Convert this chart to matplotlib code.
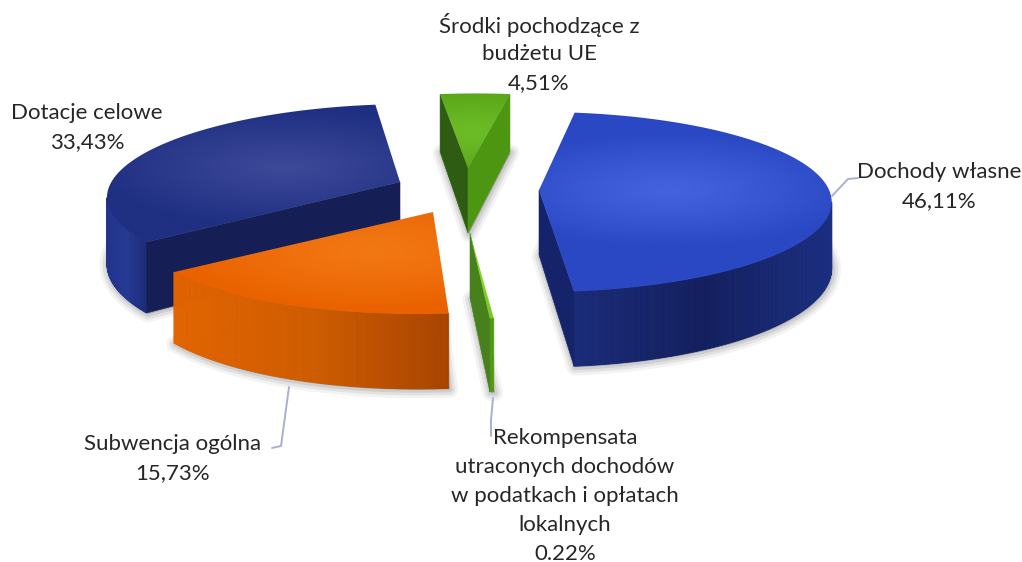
import matplotlib
matplotlib.use('Agg')
import matplotlib.pyplot as plt
import numpy as np
from matplotlib.colors import LinearSegmentedColormap, to_rgb
from matplotlib.patches import Polygon

# pie values in percent, clockwise order starting at the blue slice
categories = ['Dochody własne', 'Rekompensata', 'Subwencja ogólna', 'Dotacje celowe', 'Środki UE']
values = [46.11, 0.22, 15.73, 33.43, 4.51]
label_texts = [
    'Dochody własne\n46,11%',
    'Rekompensata\nutraconych dochodów\nw podatkach i opłatach\nlokalnych\n0.22%',
    'Subwencja ogólna\n15,73%',
    'Dotacje celowe\n33,43%',
    'Środki pochodzące z\nbudżetu UE\n4,51%',
]

plt.rcParams['font.family'] = ['Lato', 'DejaVu Sans']

START_ANGLE = 8.0
RX, RY, PERSP, DEPTH = 293.0, 88.4, 0.133, 65.0

# per slice look: apex in pixels, shear, radius scale, width scale
style = [
    dict(apex=(539, 190), shear=0, r=1.0, wide=0.99, top=('#4462de', '#2a48c4'),
         wall=('#1a2b78', '#131f5e', '#1b2e80'), faces=('#15246a', '#15246a')),
    dict(apex=(470, 233), shear=7, r=0.86, wide=1.0, top=('#86d826', '#74c41e'),
         wall=('#4f9a14', '#5a9e20', '#4f9a14'), faces=('#47801c', '#47801c')),
    dict(apex=(433, 212), shear=15, r=1.0, wide=1.0, top=('#f27814', '#ea6200'),
         wall=('#e26400', '#cf5c00', '#a84400'), faces=('#a84400', '#a84400')),
    dict(apex=(400, 182), shear=12, r=1.0, wide=0.985, top=('#3c4898', '#1f2f82'),
         wall=('#22348c', '#263a94', '#1b2a78'), faces=('#161f55', '#161f55')),
    dict(apex=(468, 168), shear=8, r=0.95, wide=1.0, top=('#6cbc26', '#4f9a12'),
         wall=('#4f9a12', '#4f9a12', '#4f9a12'), faces=('#2e5c12', '#4c9612')),
]
draw_order = [3, 4, 0, 2, 1]

# where the labels sit, in pixels: x centre, y of the first line
label_pos = [(939, 172), (565, 438), (173, 444), (87, 113), (539, 25)]
leaders = [
    ([832, 848, 858], [196, 179, 178]),
    ([493, 491, 491], [398, 420, 436]),
    ([289, 281, 272], [387, 446, 448]),
]


def project(st, theta, r=1.0):
    # clockwise angle from the back of the pie, nearer parts get bigger
    t = np.radians(theta)
    X = r * st['r'] * np.sin(t)
    Y = r * st['r'] * np.cos(t)
    s = 1 / (1 + PERSP * Y)
    x = st['apex'][0] + RX * st['wide'] * X * s + st['shear'] * Y
    y = st['apex'][1] - RY * Y * s
    return x, y, DEPTH * s


def lerp3(cols, f):
    c = [np.array(to_rgb(k)) for k in cols]
    if f < 0.5:
        return c[0] + (c[1] - c[0]) * f * 2
    return c[1] + (c[2] - c[1]) * (f - 0.5) * 2


fig = plt.figure(figsize=(10.22, 5.62), dpi=100)
ax = fig.add_axes([0, 0, 1, 1])

angles = START_ANGLE + np.concatenate([[0], np.cumsum(values)]) * 3.6
z = 1

for i in draw_order:
    st = style[i]
    a0, a1 = angles[i], angles[i + 1]
    th = np.linspace(a0, a1, max(int((a1 - a0) * 2), 3))
    px, py, pd = project(st, th)
    ax_, ay_, ad_ = project(st, 0, 0)

    # soft shadow round the base
    base_x = np.concatenate([[ax_], px])
    base_y = np.concatenate([[ay_ + ad_], py + pd])
    for lw, al in [(12, 0.07), (8, 0.10), (4, 0.14)]:
        ax.add_patch(Polygon(np.c_[base_x + 1, base_y + 1], closed=True, facecolor='#555555',
                             edgecolor='#555555', lw=lw, alpha=al, zorder=z, joinstyle='round'))
    z += 1

    # outer wall, only the pieces facing the viewer
    vis = [k for k in range(len(th) - 1) if px[k + 1] < px[k]]
    if vis:
        xmin, xmax = px[vis].min(), px[vis].max() + 1e-6
        for k in vis:
            f = (px[k] - xmin) / max(xmax - xmin, 1)
            col = lerp3(st['wall'], f)
            ax.add_patch(Polygon([(px[k], py[k]), (px[k + 1], py[k + 1]),
                                  (px[k + 1], py[k + 1] + pd[k + 1]), (px[k], py[k] + pd[k])],
                                 closed=True, facecolor=col, edgecolor=col, lw=0.6, zorder=z))
        z += 1

    # the two cut faces
    if px[0] < ax_:
        ax.add_patch(Polygon([(ax_, ay_), (px[0], py[0]), (px[0], py[0] + pd[0]), (ax_, ay_ + ad_)],
                             closed=True, facecolor=st['faces'][0], edgecolor=st['faces'][0],
                             lw=0.4, zorder=z))
        z += 1
    if ax_ < px[-1]:
        ax.add_patch(Polygon([(ax_, ay_), (px[-1], py[-1]), (px[-1], py[-1] + pd[-1]), (ax_, ay_ + ad_)],
                             closed=True, facecolor=st['faces'][1], edgecolor=st['faces'][1],
                             lw=0.4, zorder=z))
        z += 1

    # top surface with radial highlight, clipped to the slice
    tx = np.concatenate([[ax_], px])
    ty = np.concatenate([[ay_], py])
    poly = Polygon(np.c_[tx, ty], closed=True, facecolor='none', edgecolor='none', zorder=z)
    ax.add_patch(poly)
    x0, x1, y0, y1 = tx.min() - 2, tx.max() + 2, ty.min() - 2, ty.max() + 2
    gx, gy = np.meshgrid(np.linspace(x0, x1, 200), np.linspace(y0, y1, 200))
    mx, my, _ = project(st, (a0 + a1) / 2, 0.45)
    dist = np.hypot((gx - mx) / (RX * 0.65), (gy - my) / (RY * 0.65))
    cmap = LinearSegmentedColormap.from_list('top', st['top'])
    im = ax.imshow(np.clip(dist, 0, 1) ** 1.2, extent=(x0, x1, y1, y0), cmap=cmap, vmin=0, vmax=1,
                   aspect='auto', zorder=z, interpolation='bilinear')
    im.set_clip_path(poly)
    z += 1

for lx, ly in leaders:
    ax.plot(lx, ly, color='#a9afd0', lw=1.4, zorder=z, solid_capstyle='round')

LINE_H = 29.0
for txt, (lx, ly) in zip(label_texts, label_pos):
    for j, line in enumerate(txt.split('\n')):
        ax.text(lx, ly + j * LINE_H, line, ha='center', va='center', fontsize=16,
                color='#262626', zorder=z + 1)

ax.set_xlim(0, 1022)
ax.set_ylim(562, 0)
ax.axis('off')

fig.savefig('out.png', dpi=100, facecolor='white')
